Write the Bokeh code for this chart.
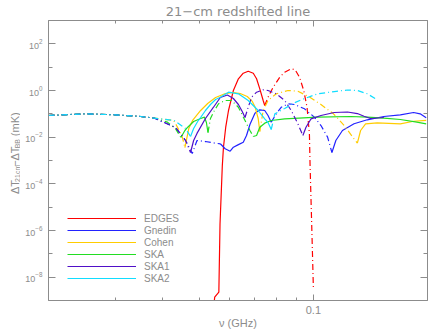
import math
from bokeh.plotting import figure
from bokeh.layouts import row
from bokeh.models import (Range1d, LogAxis, FixedTicker, LogTickFormatter,
                          PrintfTickFormatter, Label, Legend, LegendItem, Title)
from bokeh.embed import file_html
from bokeh.resources import INLINE

# ---------------- data ----------------
# frequency in GHz, signed temperature difference in mK
# (positive -> dash-dot, negative -> solid; plotted as |value|)
X_MAJOR = [0.1]
X_MINOR = [0.02, 0.03, 0.04, 0.05, 0.06, 0.07, 0.08, 0.09, 0.2]
Y_MAJOR = [1e-8, 1e-6, 1e-4, 1e-2, 1e0, 1e2]
Y_MINOR = [1e-9, 1e-7, 1e-5, 1e-3, 1e-1, 1e1, 1e3]

names = ["EDGES", "Gnedin", "Cohen", "SKA", "SKA1", "SKA2"]
colors = ["#ff0000", "#2222ff", "#ffcc00", "#22dd22", "#5010c8", "#11ddff"]

edges_nu = [0.0540, 0.0549, 0.0563, 0.0567, 0.0575, 0.0579, 0.0587, 0.0597, 0.0615,
            0.0634, 0.0653, 0.0673, 0.0694, 0.0708, 0.0722, 0.0737, 0.0744,
            0.0759, 0.0783, 0.0815, 0.0840, 0.0874, 0.0895, 0.0919, 0.0943,
            0.0962, 0.0976, 0.0980, 0.0990, 0.1000]
edges_t = [-1e-10, -1.4e-9, -2.3e-9, -1.9e-6, -6.1e-4, -3.7e-3, -0.0267, -0.139, -1.0,
           -3.17, -5.5, -6.7, -5.5, -3.17, -1.18, -0.373, -0.228,
           0.516, 1.38, 3.72, 6.09, 8.51, 7.71, 3.72, 1.0,
           0.192, 0.0139, 6.1e-4, 1.5e-6, 3e-9]

gnedin_nu = [0.020, 0.025, 0.030, 0.035, 0.038, 0.0433, 0.0460, 0.0479, 0.0493, 0.0519,
             0.0552, 0.0568,
             0.0585, 0.0603, 0.0615, 0.0634, 0.0653, 0.0666, 0.0680, 0.0701, 0.0722,
             0.0744, 0.0759, 0.0774,
             0.0798, 0.0823, 0.0857, 0.0892, 0.0947, 0.1006, 0.1047, 0.1090, 0.1119,
             0.1146, 0.1193, 0.1280, 0.1387, 0.1534, 0.1696, 0.1838, 0.1913, 0.1984]
gnedin_t = [0.085, 0.100, 0.091, 0.077, 0.066, 0.0259, 0.0072, 0.0020, 0.0072, 0.0065,
            0.0055, 0.0052,
            -0.0032, -0.0025, -0.0037, -0.0048, -0.0061, -0.0118, -0.0349, -0.107, -0.149,
            -0.139, -0.0848, -0.044,
            0.100, 0.192, 0.269, 0.251, 0.164, 0.0718, 0.0316, 0.0100, 0.0022,
            -0.0072, -0.0193, -0.0374, -0.0555, -0.0769, -0.0909, -0.114, -0.100, -0.0677]

cohen_nu = [0.020, 0.025, 0.030, 0.035, 0.038, 0.0428, 0.0438, 0.0451, 0.0458,
            0.0469, 0.0480, 0.0504, 0.0526, 0.0552, 0.0586, 0.0615, 0.0641, 0.0669,
            0.0690, 0.0702, 0.0715, 0.0722,
            0.0737, 0.0759, 0.0798, 0.0857, 0.0910, 0.0976, 0.1047, 0.1130, 0.1205,
            0.1280, 0.1306,
            0.1332, 0.1373, 0.1473, 0.1696, 0.1838, 0.1984]
cohen_t = [0.085, 0.100, 0.091, 0.077, 0.066, 0.0518, 0.0267, 0.0100, 0.0036,
           -0.0235, -0.0518, -0.139, -0.277, -0.50, -0.74, -0.82, -0.74, -0.55,
           -0.34, -0.19, -0.063, -0.0175,
           0.139, 0.373, 0.72, 1.0, 0.93, 0.53, 0.25, 0.10, 0.032,
           0.0085, 0.0056,
           -0.0193, -0.0374, -0.041, -0.037, -0.048, -0.052]

ska_nu = [0.020, 0.025, 0.030, 0.035, 0.038, 0.0412, 0.0433, 0.0447,
          0.0458, 0.0466, 0.0483, 0.0504, 0.0516, 0.0522, 0.0527,
          0.0535, 0.0548, 0.0562, 0.0585, 0.0608, 0.0634, 0.0660, 0.0680, 0.0694,
          0.0708, 0.0722, 0.0744, 0.0774, 0.0840, 0.1026, 0.1254, 0.1387, 0.1534,
          0.1696, 0.1875, 0.1984]
ska_t = [0.085, 0.100, 0.091, 0.077, 0.066, 0.044, 0.0228, 0.0097,
         -0.0193, -0.0267, -0.0469, -0.0631, -0.0718, -0.0425, -0.0158,
         0.0631, 0.139, 0.269, 0.373, 0.373, 0.192, 0.0518, 0.0193, 0.0107,
         -0.0118, -0.0267, -0.0398, -0.0518, -0.0612, -0.0718, -0.0769, -0.0718, -0.066,
         -0.0571, -0.044, -0.0374]

ska1_nu = [0.020, 0.025, 0.030, 0.035, 0.038, 0.0433, 0.0460, 0.0474,
           0.0483, 0.0493, 0.0519, 0.0545, 0.0568, 0.0593, 0.0615, 0.0634, 0.0649, 0.0660,
           0.0673, 0.0687, 0.0708, 0.0737, 0.0759, 0.0798, 0.0840, 0.0874, 0.0910, 0.0938,
           0.0956, 0.0986, 0.1047, 0.1135, 0.1230, 0.1306, 0.1360, 0.1415, 0.1534]
ska1_t = [0.085, 0.100, 0.091, 0.077, 0.066, 0.0259, 0.0072, 0.0022,
          -0.0072, -0.0145, -0.0631, -0.192, -0.50, -0.64, -0.454, -0.251, -0.126, -0.0696,
          0.192, 0.516, 0.846, 1.07, 1.0, 0.722, 0.373, 0.139, 0.0374, 0.0118,
          -0.0267, -0.0612, -0.0848, -0.114, -0.120, -0.103, -0.079, -0.0631, -0.0696]

ska2_nu = [0.020, 0.025, 0.030, 0.035, 0.038, 0.0429, 0.0460, 0.0474,
           0.0483, 0.0495, 0.0504, 0.0519, 0.0535, 0.0552, 0.0568, 0.0597, 0.0634,
           0.0673, 0.0715, 0.0744, 0.0759, 0.0774,
           0.0791, 0.0840, 0.0892, 0.0947, 0.1026, 0.1135, 0.1230, 0.1306, 0.1387, 0.1460]
ska2_t = [0.085, 0.100, 0.091, 0.077, 0.066, 0.0518, 0.0235, 0.0107,
          -0.0235, -0.0469, -0.0696, -0.139, -0.251, -0.411, -0.516, -0.846, -0.722,
          -0.373, -0.139, -0.0612, -0.0425, -0.0213,
          0.100, 0.17, 0.30, 0.45, 0.72, 0.90, 1.05, 1.0, 0.722, 0.441]

series_nu = [edges_nu, gnedin_nu, cohen_nu, ska_nu, ska1_nu, ska2_nu]
series_t = [edges_t, gnedin_t, cohen_t, ska_t, ska1_t, ska2_t]

GRAY = "#8c8c8c"
FONT = "Liberation Sans"


def split_runs(nu, t):
    """Split a signed curve into solid (negative) and dash-dot (positive) runs."""
    runs = {"solid": ([], []), "dashdot": ([], [])}
    cur, xs, ys, prev = None, [], [], None
    for f, v in zip(nu, t):
        style = "dashdot" if v > 0 else "solid"
        if style != cur:
            if cur is not None:
                runs[cur][0].append(xs)
                runs[cur][1].append(ys)
                xs, ys = [prev[0]], [prev[1]]
            cur = style
        xs.append(f)
        ys.append(abs(v))
        prev = (f, abs(v))
    runs[cur][0].append(xs)
    runs[cur][1].append(ys)
    return runs


p = figure(width=416, height=334, title=None,
           x_axis_type="log", y_axis_type="log",
           x_range=Range1d(0.02, 0.2), y_range=Range1d(1e-9, 1e3),
           output_backend="svg", toolbar_location=None,
           min_border_left=28, min_border_right=9, min_border_top=20, min_border_bottom=34)
p.grid.visible = False
p.outline_line_color = None
p.background_fill_color = "white"
p.border_fill_color = "white"

xt = FixedTicker(ticks=X_MAJOR, minor_ticks=X_MINOR)
yt = FixedTicker(ticks=Y_MAJOR, minor_ticks=Y_MINOR)


def style_axis(ax, ticker, major_len, minor_len, show_labels):
    ax.ticker = ticker
    ax.axis_line_color = GRAY
    ax.major_tick_line_color = GRAY
    ax.minor_tick_line_color = GRAY
    ax.major_tick_in = major_len
    ax.major_tick_out = 0
    ax.minor_tick_in = minor_len
    ax.minor_tick_out = 0
    if show_labels:
        ax.major_label_text_color = GRAY
        ax.major_label_text_font = FONT
    else:
        ax.major_label_text_color = None
        ax.major_label_text_font_size = "0px"
        ax.major_label_standoff = 0


xb = p.below[0]
style_axis(xb, xt, 6, 3, True)
xb.formatter = PrintfTickFormatter(format="%.1f")
xb.major_label_text_font_size = "11px"
xb.major_label_standoff = 5
xb.axis_label = "\u03bd (GHz)"
xb.axis_label_text_font = FONT
xb.axis_label_text_font_size = "11px"
xb.axis_label_text_font_style = "normal"
xb.axis_label_text_color = GRAY
xb.axis_label_standoff = 0

yl = p.left[0]
style_axis(yl, yt, 7, 4, True)
yl.formatter = LogTickFormatter()
yl.major_label_text_font_size = "9px"
yl.major_label_standoff = 6

xa = LogAxis()
style_axis(xa, xt, 6, 3, False)
p.add_layout(xa, "above")
yr = LogAxis()
style_axis(yr, yt, 7, 4, False)
p.add_layout(yr, "right")

p.add_layout(Title(text="21\u2212cm redshifted line", align="center",
                   text_font="DejaVu Sans", text_font_size="13px",
                   text_font_style="normal", text_color=GRAY, standoff=3), "above")

legend_items = []
for name, col, nu, t in zip(names, colors, series_nu, series_t):
    runs = split_runs(nu, t)
    solid_r = None
    if runs["dashdot"][0]:
        p.multi_line(xs=runs["dashdot"][0], ys=runs["dashdot"][1], line_color=col,
                     line_width=1.2, line_dash="6 3 1 3")
    if runs["solid"][0]:
        solid_r = p.multi_line(xs=runs["solid"][0], ys=runs["solid"][1], line_color=col,
                               line_width=1.2)
    legend_items.append(LegendItem(label=name, renderers=[solid_r]))

legend = Legend(items=legend_items, location=(19, 16), orientation="vertical",
                padding=0, margin=0, spacing=0, glyph_width=69, glyph_height=12,
                label_height=12, label_standoff=8, label_text_font=FONT,
                label_text_font_size="10px", label_text_color=GRAY,
                border_line_color=None, background_fill_alpha=0)
p.add_layout(legend)

# narrow strip holding the rotated y-axis label (with subscripts)
lab = figure(width=20, height=334, x_range=Range1d(0, 20), y_range=Range1d(0, 334),
             output_backend="svg", toolbar_location=None,
             x_axis_location=None, y_axis_location=None,
             min_border_left=0, min_border_right=0, min_border_top=0, min_border_bottom=0)
lab.grid.visible = False
lab.outline_line_color = None
lab.background_fill_color = "white"
lab.border_fill_color = "white"

ylab = [("\u0394T", 127, 11, 14), ("21cm", 141.5, 7, 16.5), ("\u2212", 159.5, 11, 14),
        ("\u0394T", 167, 11, 14), ("BB", 181.5, 7, 16.5), ("(mK)", 196, 11, 14)]
for txt, ypos, fs, xpos in ylab:
    lab.add_layout(Label(x=xpos, y=ypos, text=txt, angle=math.pi / 2,
                         text_font=FONT, text_font_size=f"{fs}px",
                         text_color=GRAY, text_align="left", text_baseline="alphabetic"))

layout = row(lab, p, spacing=0)
open("out.html", "w").write(file_html(layout, INLINE))
